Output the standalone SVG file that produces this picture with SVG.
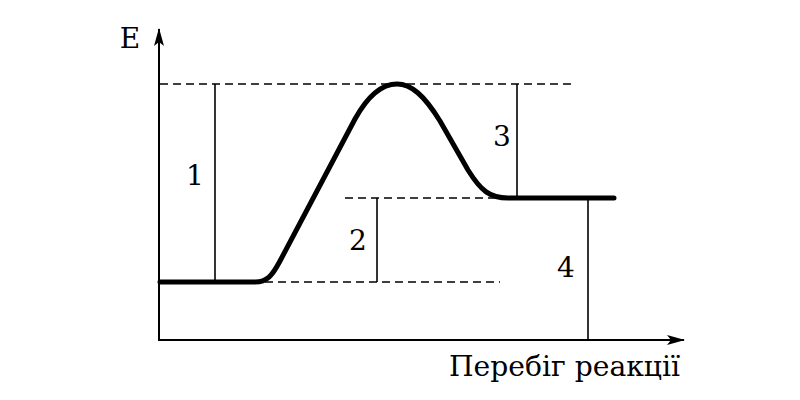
<svg xmlns="http://www.w3.org/2000/svg" width="800" height="400" viewBox="0 0 800 400">
<defs>
<style>
.ax{stroke:#000;stroke-width:2;fill:none}
.v{stroke:#000;stroke-width:1.6;fill:none}
.d{stroke:#000;stroke-width:1.6;fill:none;stroke-dasharray:8 5}
.c{stroke:#000;stroke-width:5;fill:none;stroke-linecap:round;stroke-linejoin:round}
</style>
<marker id="arr" markerWidth="18" markerHeight="10" refX="17" refY="5" orient="auto" markerUnits="userSpaceOnUse">
<path d="M0,0 L18,5 L0,10 L4,5 Z" fill="#000"/>
</marker>
</defs>
<rect width="800" height="400" fill="#fff"/>
<g id="axes">
<line class="ax" x1="159" y1="341" x2="159" y2="29" marker-end="url(#arr)"/>
<line class="ax" x1="158" y1="340" x2="684" y2="340" marker-end="url(#arr)"/>
</g>
<g id="connectors">
<line class="d" x1="160" y1="84" x2="574" y2="84"/>
<line class="d" x1="265" y1="282" x2="500" y2="282"/>
<line class="d" x1="345" y1="198" x2="500" y2="198"/>
<line class="v" x1="215" y1="84" x2="215" y2="282"/>
<line class="v" x1="377" y1="198" x2="377" y2="282"/>
<line class="v" x1="517" y1="84" x2="517" y2="198"/>
<line class="v" x1="588" y1="198" x2="588" y2="340"/>
</g>
<g id="curve">
<path class="c" d="M160,282 L255,282 C267,282 272,276 280,261 L355,119 C370,92 384,84 397,84 C411,84 424,95 440,121 L468,170 C481,191 490,198 508,198 L614,198"/>
</g>
<g id="labels" font-family="DejaVu Serif, Liberation Serif, serif" font-size="28" fill="#000">
<text x="130" y="48" text-anchor="middle">E</text>
<text x="449" y="376" textLength="231" lengthAdjust="spacingAndGlyphs">Перебіг реакції</text>
<text id="l1" x="195" y="185" text-anchor="middle">1</text>
<text id="l2" x="358" y="250" text-anchor="middle">2</text>
<text id="l3" x="502" y="146" text-anchor="middle">3</text>
<text id="l4" x="566" y="277" text-anchor="middle">4</text>
</g>
</svg>
